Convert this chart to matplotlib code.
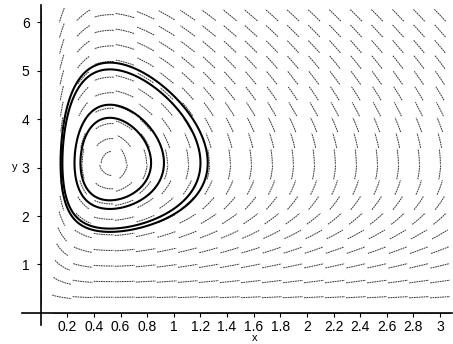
import numpy as np
import matplotlib
matplotlib.use("Agg")
import matplotlib.pyplot as plt
from matplotlib.collections import LineCollection

# predator-prey system: x' = x*(a - b*y), y' = y*(d*x - c)
a, b, c, d = 3.1, 1.0, 0.91, 1.75

# direction field grid (20 x 20)
x_grid = np.linspace(0, 3, 20)
y_grid = np.linspace(0, 6.15, 20)

# solution curves pass through these points (top of each orbit)
orbit_x = [0.52, 0.52, 0.52, 0.52]
orbit_y = [5.17, 5.03, 4.30, 4.03]

x_ticks = [0.2, 0.4, 0.6, 0.8, 1, 1.2, 1.4, 1.6, 1.8, 2, 2.2, 2.4, 2.6, 2.8, 3]
x_tick_labels = ["0.2", "0.4", "0.6", "0.8", "1", "1.2", "1.4", "1.6", "1.8", "2",
                 "2.2", "2.4", "2.6", "2.8", "3"]
y_ticks = [1, 2, 3, 4, 5, 6]


def field(x, y):
    return x * (a - b * y), y * (d * x - c)


def conserved(x, y):
    return d * x - c * np.log(x) + b * y - a * np.log(y)


plt.rcParams['font.family'] = ['Liberation Sans', 'DejaVu Sans']
fig = plt.figure(figsize=(4.53, 3.44), dpi=100)
ax = fig.add_axes([22 / 453, 19 / 344, 430 / 453, 320 / 344])
ax.set_xlim(-0.14, 3.09)
ax.set_ylim(-0.25, 6.36)

# short curved field segments, sized to the grid cell
hx = x_grid[1] - x_grid[0]
hy = y_grid[1] - y_grid[0]
seg_len = 0.95
nsub = 4
segs = []
for x0 in x_grid:
    for y0 in y_grid:
        u, v = field(x0, y0)
        if abs(u) < 1e-12 and abs(v) < 1e-12:
            continue
        pts = {}
        for sgn in (1, -1):
            px, py = x0, y0
            path = []
            for _ in range(nsub):
                u, v = field(px, py)
                U, V = u / hx, v / hy
                n = np.hypot(U, V)
                if n == 0:
                    break
                step = sgn * seg_len / 2 / nsub
                px = px + step * U / n * hx
                py = py + step * V / n * hy
                path.append((px, py))
            pts[sgn] = path
        line = pts[-1][::-1] + [(x0, y0)] + pts[1]
        segs.append(line)

lc = LineCollection(segs, colors='#333333', linewidths=0.7, linestyles=(0, (1.8, 0.7)))
ax.add_collection(lc)

# orbits as level curves of the conserved quantity
gx = np.linspace(0.05, 1.6, 500)
gy = np.linspace(0.8, 6.2, 500)
GX, GY = np.meshgrid(gx, gy)
levels = sorted(conserved(np.array(orbit_x), np.array(orbit_y)))
ax.contour(GX, GY, conserved(GX, GY), levels=levels, colors='black', linewidths=1.5)

# Maple-style axes through the origin
for side in ['top', 'right']:
    ax.spines[side].set_visible(False)
ax.spines['left'].set_position(('data', 0))
ax.spines['bottom'].set_position(('data', 0))
ax.spines['left'].set_linewidth(1.2)
ax.spines['bottom'].set_linewidth(1.2)
ax.set_xticks(x_ticks)
ax.set_xticklabels(x_tick_labels)
ax.set_yticks(y_ticks)
ax.tick_params(direction='out', length=3, width=0.8, labelsize=10, pad=2)
ax.tick_params(axis='y', pad=5)

fig.text(255 / 453, 1 - 338 / 344, "x", ha='center', va='center', fontsize=8)
fig.text(15 / 453, 1 - 167 / 344, "y", ha='center', va='center', fontsize=8)

fig.savefig("out.png", dpi=100)
